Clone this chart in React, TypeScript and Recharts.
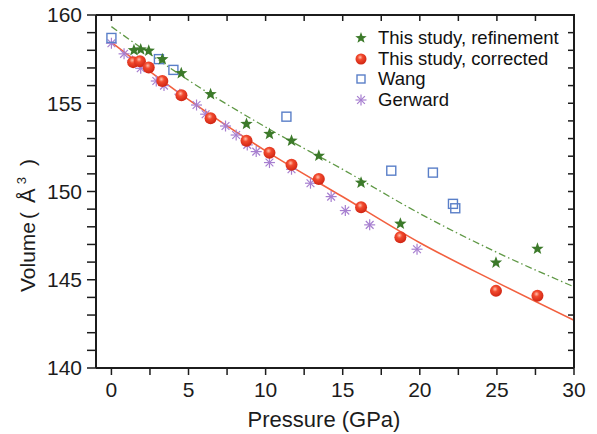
import React from 'react';
import { ComposedChart, XAxis, YAxis, Scatter, Line, Legend, Label } from 'recharts';

// This study, refinement (green stars)
const refinementPressure = [1.46, 1.9, 2.42, 3.3, 4.53, 6.43, 8.76, 10.25, 11.68, 13.45, 16.19, 18.74, 24.94, 27.63];
const refinementVolume = [158.0, 158.05, 157.97, 157.49, 156.7, 155.51, 153.83, 153.26, 152.88, 152.02, 150.5, 148.17, 145.97, 146.75];

// This study, corrected (red balls)
const correctedPressure = [1.41, 1.85, 2.42, 3.3, 4.54, 6.43, 8.76, 10.25, 11.68, 13.45, 16.19, 18.74, 24.94, 27.63];
const correctedVolume = [157.33, 157.38, 157.03, 156.26, 155.45, 154.15, 152.88, 152.2, 151.51, 150.71, 149.11, 147.41, 144.37, 144.09];

// Wang (open squares)
const wangPressure = [0, 3.08, 4.02, 11.35, 18.15, 20.85, 22.15, 22.3];
const wangVolume = [158.7, 157.5, 156.89, 154.24, 151.18, 151.07, 149.3, 149.05];

// Gerward (asterisks)
const gerwardPressure = [0, 0.82, 1.36, 1.9, 2.91, 3.41, 4.44, 5.52, 6.11, 7.4, 8.09, 8.81, 9.39, 10.25, 11.68, 12.91, 14.25, 15.17, 16.75, 19.82];
const gerwardVolume = [158.4, 157.8, 157.4, 156.98, 156.26, 156.0, 155.51, 154.9, 154.38, 153.71, 153.2, 152.64, 152.26, 151.64, 151.26, 150.47, 149.71, 148.92, 148.11, 146.73];

// fitted curves
const fitPressure = [0, 5, 10, 15, 20, 25, 30];
const fitRefinement = [159.34, 156.3, 153.65, 151.25, 148.75, 146.55, 144.6];
const fitCorrected = [158.45, 155.2, 152.3, 149.7, 147.1, 144.85, 142.7];

const xTicks = [0, 2.5, 5, 7.5, 10, 12.5, 15, 17.5, 20, 22.5, 25, 27.5, 30];
const yTicks = [140, 141, 142, 143, 144, 145, 146, 147, 148, 149, 150, 151, 152, 153, 154, 155, 156, 157, 158, 159, 160];

const X_MIN = -1;
const X_MAX = 30;
const Y_MIN = 140;
const Y_MAX = 160;

// chart box
const W = 597;
const H = 434;
const MARGIN = { top: 15, right: 23, bottom: 0, left: 0 };
const Y_AXIS_W = 96;
const X_AXIS_H = 66;

const FONT = '"Liberation Sans", Arial, sans-serif';
const INK = '#1c1c1c';

const toPoints = (ps: number[], vs: number[]) => ps.map((p, i) => ({ p, v: vs[i] }));

const refinementData = toPoints(refinementPressure, refinementVolume);
const correctedData = toPoints(correctedPressure, correctedVolume);
const wangData = toPoints(wangPressure, wangVolume);
const gerwardData = toPoints(gerwardPressure, gerwardVolume);
const refinementFit = toPoints(fitPressure, fitRefinement);
const correctedFit = toPoints(fitPressure, fitCorrected);

const StarMark = ({ cx, cy, r = 6.5 }: { cx: number; cy: number; r?: number }) => {
  const pts: string[] = [];
  for (let i = 0; i < 10; i++) {
    const rad = i % 2 === 0 ? r : r * 0.42;
    const a = -Math.PI / 2 + (i * Math.PI) / 5;
    pts.push(`${cx + rad * Math.cos(a)},${cy + rad * Math.sin(a)}`);
  }
  return <polygon points={pts.join(' ')} fill="#3c7a2a" />;
};

const BallMark = ({ cx, cy, r = 6 }: { cx: number; cy: number; r?: number }) => (
  <g>
    <defs>
      <radialGradient id="ballFill" cx="42%" cy="35%" r="65%">
        <stop offset="0%" stopColor="#ffc0ac" />
        <stop offset="35%" stopColor="#f24a2e" />
        <stop offset="100%" stopColor="#cf2412" />
      </radialGradient>
    </defs>
    <circle cx={cx} cy={cy} r={r} fill="url(#ballFill)" />
  </g>
);

const SquareMark = ({ cx, cy, s = 9 }: { cx: number; cy: number; s?: number }) => (
  <rect x={cx - s / 2} y={cy - s / 2} width={s} height={s} fill="none" stroke="#5a7fc8" strokeWidth={1.4} />
);

const AsteriskMark = ({ cx, cy, r = 5.5 }: { cx: number; cy: number; r?: number }) => {
  const d = r * 0.7071;
  return (
    <g stroke="#a77fd0" strokeWidth={1.2}>
      <line x1={cx} y1={cy - r} x2={cx} y2={cy + r} />
      <line x1={cx - r} y1={cy} x2={cx + r} y2={cy} />
      <line x1={cx - d} y1={cy - d} x2={cx + d} y2={cy + d} />
      <line x1={cx - d} y1={cy + d} x2={cx + d} y2={cy - d} />
    </g>
  );
};

// top and right frame with inward ticks (Origin-style box), drawn over the chart
const FrameOverlay = () => {
  const left = MARGIN.left + Y_AXIS_W;
  const right = W - MARGIN.right;
  const top = MARGIN.top;
  const bottom = H - MARGIN.bottom - X_AXIS_H;
  const px = (p: number) => left + ((p - X_MIN) / (X_MAX - X_MIN)) * (right - left);
  const py = (v: number) => bottom - ((v - Y_MIN) / (Y_MAX - Y_MIN)) * (bottom - top);
  return (
    <svg width={W} height={H} style={{ position: 'absolute', left: 0, top: 0, pointerEvents: 'none' }}>
      <polyline points={`${left},${top} ${right},${top} ${right},${bottom}`} fill="none" stroke={INK} strokeWidth={2} />
      {xTicks.map((t) => (
        <line key={`tt-${t}`} x1={px(t)} y1={top} x2={px(t)} y2={top + 6} stroke={INK} strokeWidth={1.5} />
      ))}
      {yTicks.map((t) => (
        <line key={`rt-${t}`} x1={right} y1={py(t)} x2={right - 6} y2={py(t)} stroke={INK} strokeWidth={1.5} />
      ))}
    </svg>
  );
};

const legendItems = [
  { name: 'This study, refinement', icon: <StarMark cx={8} cy={8} r={6} /> },
  { name: 'This study, corrected', icon: <BallMark cx={8} cy={8} r={5.5} /> },
  { name: 'Wang', icon: <SquareMark cx={8} cy={8} s={8} /> },
  { name: 'Gerward', icon: <AsteriskMark cx={8} cy={8} r={5.5} /> },
];

const renderLegend = () => (
  <div style={{ fontFamily: FONT, fontSize: 18.5, color: '#111' }}>
    {legendItems.map((item) => (
      <div key={item.name} style={{ display: 'flex', alignItems: 'center', height: 20.5 }}>
        <svg width={16} height={16} style={{ marginRight: 9 }}>{item.icon}</svg>
        <span>{item.name}</span>
      </div>
    ))}
  </div>
);

const xTitle = () => (
  <text x={324} y={427} textAnchor="middle" fill={INK} fontSize={22} fontFamily={FONT}>
    Pressure (GPa)
  </text>
);

const yTitle = () => (
  <text x={35} y={292} transform="rotate(-90 35 292)" textAnchor="start" fill={INK} fontSize={21} fontFamily={FONT}>
    Volume
    <tspan dx={3}>(</tspan>
    <tspan dx={9} fontSize={22}>Å</tspan>
    <tspan dx={4} dy={-9} fontSize={13}>3</tspan>
    <tspan dx={11} dy={9}>)</tspan>
  </text>
);

const tickStyle = { fill: INK, fontSize: 21, fontFamily: FONT };
const majorOnly = (v: number) => (v % 5 === 0 ? String(v) : '');

export default function App() {
  return (
    <div style={{ position: 'absolute', left: 0, top: 0, width: W, height: H, background: '#fff' }}>
      <ComposedChart width={W} height={H} margin={MARGIN}>
        <XAxis
          type="number"
          dataKey="p"
          domain={[X_MIN, X_MAX]}
          ticks={xTicks}
          interval={0}
          tickFormatter={majorOnly}
          height={X_AXIS_H}
          tickSize={7}
          tickMargin={7}
          axisLine={{ stroke: INK, strokeWidth: 2 }}
          tickLine={{ stroke: INK, strokeWidth: 1.5 }}
          tick={tickStyle}
        >
          <Label content={xTitle} />
        </XAxis>
        <YAxis
          type="number"
          dataKey="v"
          domain={[Y_MIN, Y_MAX]}
          ticks={yTicks}
          interval={0}
          tickFormatter={majorOnly}
          width={Y_AXIS_W}
          tickSize={9}
          tickMargin={5}
          axisLine={{ stroke: INK, strokeWidth: 2 }}
          tickLine={{ stroke: INK, strokeWidth: 1.5 }}
          tick={tickStyle}
        >
          <Label content={yTitle} />
        </YAxis>

        <Line
          data={refinementFit}
          dataKey="v"
          type="monotone"
          stroke="#5f9845"
          strokeWidth={1.3}
          strokeDasharray="7 3 1.5 3"
          dot={false}
          isAnimationActive={false}
        />
        <Line
          data={correctedFit}
          dataKey="v"
          type="monotone"
          stroke="#f2603f"
          strokeWidth={1.6}
          dot={false}
          isAnimationActive={false}
        />

        <Scatter data={gerwardData} shape={(props: any) => <AsteriskMark cx={props.cx} cy={props.cy} />} isAnimationActive={false} />
        <Scatter data={wangData} shape={(props: any) => <SquareMark cx={props.cx} cy={props.cy} />} isAnimationActive={false} />
        <Scatter data={refinementData} shape={(props: any) => <StarMark cx={props.cx} cy={props.cy} />} isAnimationActive={false} />
        <Scatter data={correctedData} shape={(props: any) => <BallMark cx={props.cx} cy={props.cy} />} isAnimationActive={false} />

        <Legend
          layout="vertical"
          align="center"
          verticalAlign="middle"
          content={renderLegend}
          wrapperStyle={{ left: 353, top: 28, width: 240, height: 84 }}
        />
      </ComposedChart>
      <FrameOverlay />
    </div>
  );
}
